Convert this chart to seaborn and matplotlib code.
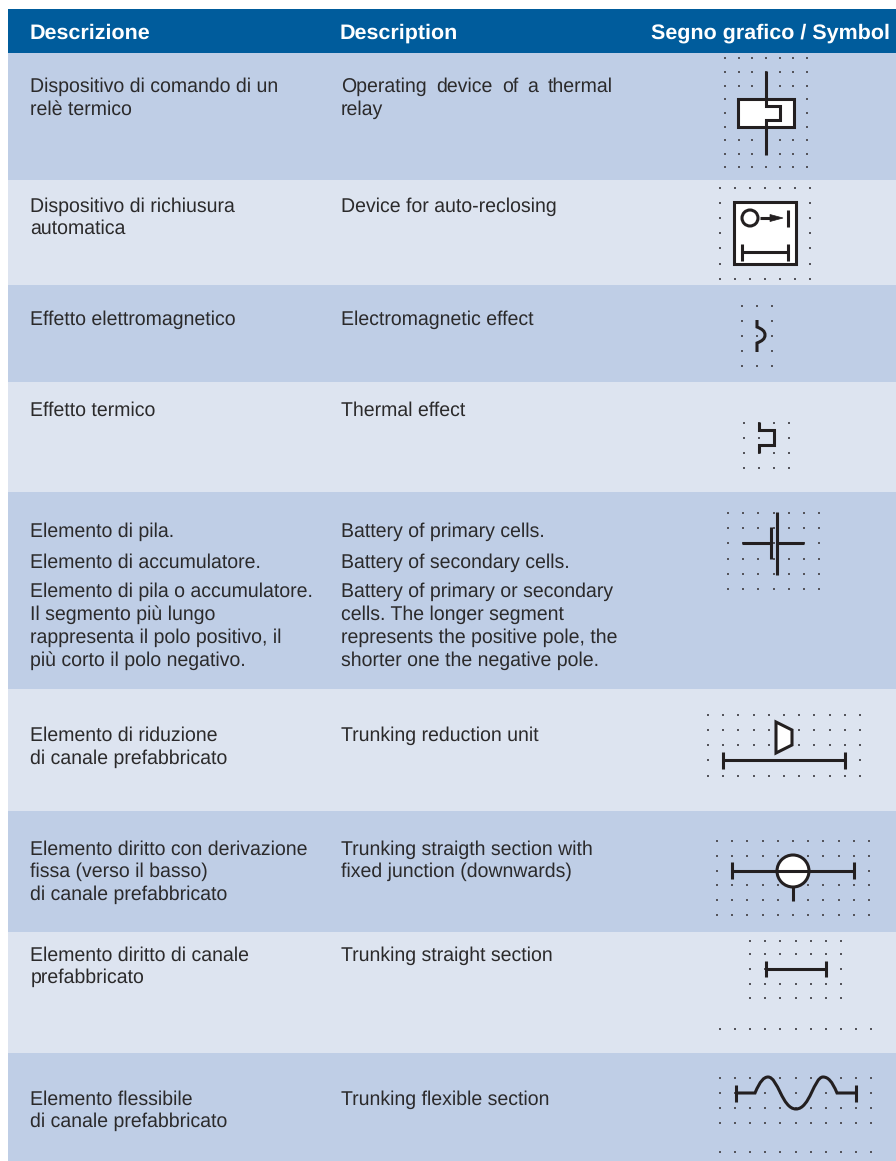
import matplotlib
matplotlib.use('Agg')
import matplotlib.pyplot as plt
from matplotlib.patches import Circle, PathPatch, Polygon
from matplotlib.path import Path
import numpy as np
import seaborn as sns

# table content
headers = ['Descrizione', 'Description', 'Segno grafico / Symbol']
row_edges = [53, 180, 285, 382, 492, 689, 811, 932, 1053, 1161]

italian = [
    [(91.5, 'Dispositivo di comando di un'), (114.5, 'relè termico')],
    [(211.5, 'Dispositivo di richiusura'), (233.5, 'automatica')],
    [(324.5, 'Effetto elettromagnetico')],
    [(415.5, 'Effetto termico')],
    [(536.5, 'Elemento di pila.'), (567.5, 'Elemento di accumulatore.'),
     (596.5, 'Elemento di pila o accumulatore.'), (619.5, 'Il segmento più lungo'),
     (642.5, 'rappresenta il polo positivo, il'), (665.5, 'più corto il polo negativo.')],
    [(740.5, 'Elemento di riduzione'), (763.5, 'di canale prefabbricato')],
    [(854.5, 'Elemento diritto con derivazione'), (876.5, 'fissa (verso il basso)'),
     (899.5, 'di canale prefabbricato')],
    [(960.5, 'Elemento diritto di canale'), (982.5, 'prefabbricato')],
    [(1104.5, 'Elemento flessibile'), (1126.5, 'di canale prefabbricato')],
]
english = [
    [(91.5, 'Operating device of a thermal'), (114.5, 'relay')],
    [(211.5, 'Device for auto-reclosing')],
    [(324.5, 'Electromagnetic effect')],
    [(415.5, 'Thermal effect')],
    [(536.5, 'Battery of primary cells.'), (567.5, 'Battery of secondary cells.'),
     (596.5, 'Battery of primary or secondary'), (619.5, 'cells. The longer segment'),
     (642.5, 'represents the positive pole, the'), (665.5, 'shorter one the negative pole.')],
    [(740.5, 'Trunking reduction unit')],
    [(854.5, 'Trunking straigth section with'), (876.5, 'fixed junction (downwards)')],
    [(960.5, 'Trunking straight section')],
    [(1104.5, 'Trunking flexible section')],
]

# dot grids behind the symbols: x start, x end, columns, list of y
dot_grids = [
    (725, 807, 7, [58, 72, 86, 99, 113, 127, 140, 154, 167]),
    (720, 810, 7, [188, 203, 218, 233, 248, 264, 279]),
    (742, 772, 3, [306, 321, 336, 351, 366]),
    (744, 789, 4, [423, 438, 453, 468]),
    (728, 819, 7, [513, 528, 543, 559, 574, 589]),
    (708, 860, 11, [715, 730, 745, 760, 776]),
    (717, 869, 11, [841, 856, 871, 885, 900, 915]),
    (750, 841, 7, [941, 954, 969, 984, 998]),
    (720, 871, 11, [1029]),
    (720, 871, 11, [1078, 1093, 1108, 1123, 1152]),
]

# symbol strokes, one (x, y) list each
relay_box = [(738, 99), (794, 99), (794, 127), (738, 127)]
relay_lines = [[(766, 71), (766, 106), (780, 106), (780, 120), (766, 120), (766, 155)]]
reclose_box = [(734, 202), (796, 202), (796, 264), (734, 264)]
reclose_lines = [[(760, 218), (775, 218)], [(788, 210), (788, 227)], [(742, 252), (788, 252)],
                 [(742, 244), (742, 261)], [(788, 244), (788, 261)]]
thermal_lines = [[(759, 422), (759, 430), (774, 430), (774, 445), (759, 445), (759, 453)]]
cell_lines = [[(742, 543), (771, 543)], [(777, 543), (804, 543)], [(771, 527), (771, 559)],
              [(777, 512), (777, 575)]]
reduction_shape = [(776, 722), (792, 730), (792, 745), (776, 753)]
reduction_lines = [[(723, 760), (845, 760)], [(723, 752), (723, 769)], [(845, 752), (845, 769)]]
junction_lines = [[(732, 871), (854, 871)], [(732, 862), (732, 879)], [(854, 862), (854, 879)],
                  [(793, 887), (793, 901)]]
straight_lines = [[(766, 969), (826, 969)], [(766, 961), (766, 977)], [(826, 961), (826, 977)]]
flex_lines = [[(736, 1085), (736, 1102)], [(856, 1085), (856, 1102)]]
flex_wave = [(736, 1093), (755, 1093), (760, 1081), (764, 1077), (768, 1077),
             (778, 1077), (782, 1109), (796, 1109), (810, 1109), (814, 1077), (823, 1077),
             (828, 1077), (832, 1081), (837, 1093), (856, 1093)]
coil_curve = [(757, 320), (757, 327), (762, 329), (765, 331), (765, 335), (765, 339), (762, 341), (757, 343), (757, 352)]

HEADER = '#005c9c'
DARK = '#bfcee6'
LIGHT = '#dde4f0'
INK = '#231f20'
TEXT = '#2b2a2b'
LW = 2.2
BODY = 14.05

sns.set_theme(style='white')
plt.rcParams['font.family'] = ['Liberation Sans', 'DejaVu Sans']
plt.rcParams['text.hinting'] = 'no_hinting'

fig = plt.figure(figsize=(8.96, 11.61), dpi=100)
ax = fig.add_axes([0, 0, 1, 1])
ax.axhspan(9, 53, xmin=8 / 896, color=HEADER, lw=0)
for i in range(len(row_edges) - 1):
    c = DARK if i % 2 == 0 else LIGHT
    ax.axhspan(row_edges[i], row_edges[i + 1], xmin=8 / 896, color=c, lw=0)

for x0, x1, n, ys in dot_grids:
    xs = np.linspace(x0, x1, n)
    gx, gy = np.meshgrid(xs, ys)
    sns.scatterplot(x=gx.ravel(), y=gy.ravel(), s=3, marker='s', color='#55555c', linewidth=0, ax=ax, zorder=2)


def strokes(lines, lw=LW, z=5):
    for line in lines:
        xs = [p[0] for p in line]
        ys = [p[1] for p in line]
        sns.lineplot(x=xs, y=ys, sort=False, estimator=None, color=INK, linewidth=lw, ax=ax, zorder=z,
                     solid_capstyle='butt', solid_joinstyle='miter')


def shape(pts):
    ax.add_patch(Polygon(pts, closed=True, fc='white', ec=INK, lw=LW, zorder=4, joinstyle='miter'))


shape(relay_box)
strokes(relay_lines)
shape(reclose_box)
strokes(reclose_lines)
ax.add_patch(Circle((750, 218), 8, fc='white', ec=INK, lw=LW, zorder=5))
ax.add_patch(Polygon([(770, 214.5), (783, 218), (770, 221.5)], closed=True, fc=INK, ec=INK, lw=0.5, zorder=5))
ax.add_patch(PathPatch(Path(coil_curve, [Path.MOVETO, Path.LINETO] + [Path.CURVE4] * 6 + [Path.LINETO]),
                       fc='none', ec=INK, lw=LW, zorder=5))
strokes(thermal_lines)
strokes(cell_lines)
shape(reduction_shape)
strokes(reduction_lines)
ax.add_patch(Circle((793, 871), 16, fc='white', ec=INK, lw=LW, zorder=4))
strokes(junction_lines)
strokes(straight_lines)
strokes(flex_lines)
codes = [Path.MOVETO, Path.LINETO, Path.CURVE4, Path.CURVE4, Path.CURVE4, Path.CURVE4, Path.CURVE4,
         Path.CURVE4, Path.CURVE4, Path.CURVE4, Path.CURVE4, Path.CURVE4, Path.CURVE4, Path.CURVE4, Path.LINETO]
ax.add_patch(PathPatch(Path(flex_wave, codes), fc='none', ec=INK, lw=LW, zorder=5))

head_x = [30, 340, 651]
for x, h in zip(head_x, headers):
    ax.text(x, 38.7, h, color='white', fontsize=15.45, fontweight='bold', va='baseline', zorder=6)


def justified(x, x_end, y, s):
    # spread the words of a line so it ends at x_end, like the first english row
    words = s.split(' ')
    r = fig.canvas.get_renderer()
    items = [ax.text(x, y, w, color=TEXT, fontsize=BODY, va='baseline', zorder=6) for w in words]
    widths = [t.get_window_extent(r).width for t in items]
    gap = (x_end - x - sum(widths)) / (len(words) - 1)
    pos = x
    for t, w in zip(items, widths):
        t.set_x(pos)
        pos += w + gap


for rows, x in ((italian, 30.5), (english, 341)):
    for row in rows:
        for y, s in row:
            if s.startswith('Operating'):
                justified(x, 613, y, s)
            else:
                ax.text(x, y, s, color=TEXT, fontsize=BODY, va='baseline', zorder=6)

ax.set_xlim(0, 896)
ax.set_ylim(1161, 0)
ax.axis('off')
fig.savefig('out.png', dpi=100, facecolor='white')
